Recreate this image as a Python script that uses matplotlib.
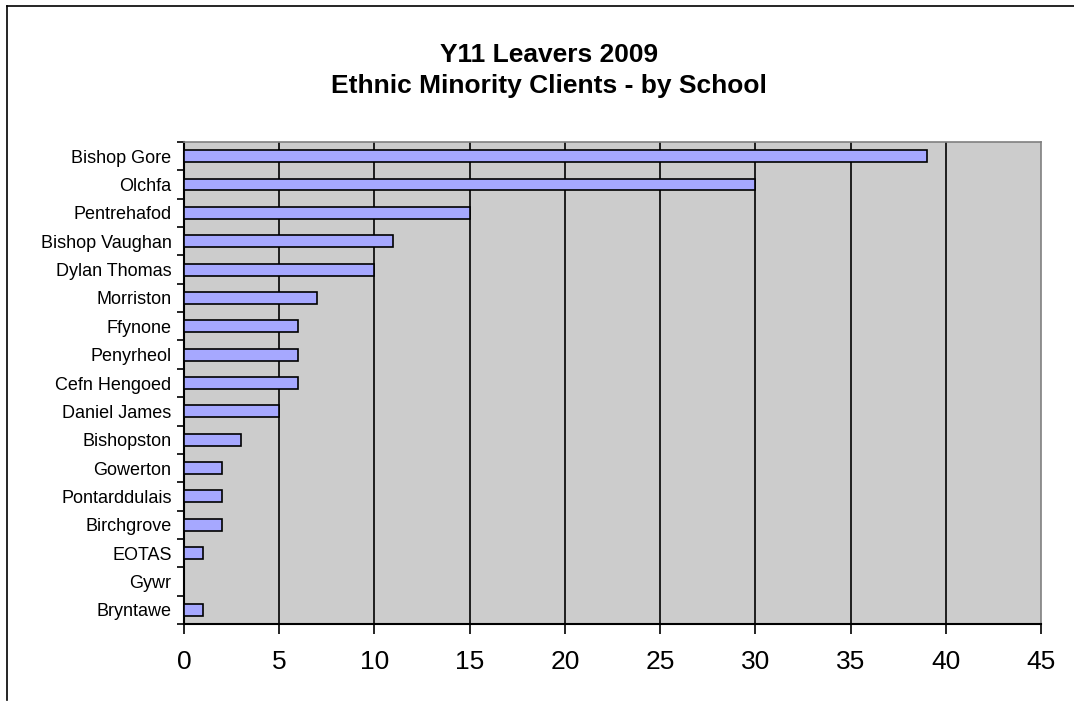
import numpy as np
import matplotlib
matplotlib.use('Agg')
import matplotlib.pyplot as plt
from matplotlib.lines import Line2D

plt.rcParams['font.family'] = ['Liberation Sans', 'DejaVu Sans']

# schools top to bottom as in the chart
schools = ['Bishop Gore', 'Olchfa', 'Pentrehafod', 'Bishop Vaughan', 'Dylan Thomas',
           'Morriston', 'Ffynone', 'Penyrheol', 'Cefn Hengoed', 'Daniel James',
           'Bishopston', 'Gowerton', 'Pontarddulais', 'Birchgrove', 'EOTAS',
           'Gywr', 'Bryntawe']
clients = [39, 30, 15, 11, 10, 7, 6, 6, 6, 5, 3, 2, 2, 2, 1, 0, 1]
xticks = [0, 5, 10, 15, 20, 25, 30, 35, 40, 45]

fig = plt.figure(figsize=(10.74, 7.04), dpi=100)
fig.patch.set_facecolor('white')

# outer chart border (left, top, bottom visible)
W, H = 1074., 704.
fig.add_artist(Line2D([7/W, 7/W], [1-6/H, 1-700/H], color='black', lw=1.2))
fig.add_artist(Line2D([7/W, 1.0], [1-6/H, 1-6/H], color='black', lw=1.2))

ax = fig.add_axes([184/W, 1-624/H, 857/W, 482/H])
ax.set_facecolor('#CCCCCC')

y = np.arange(len(schools))
ax.barh(y, clients, height=0.42, color='#A6A8FF', edgecolor='black', linewidth=1.2, zorder=3)

ax.set_xlim(0, 45)
ax.set_ylim(len(schools)-0.5, -0.5)
ax.set_xticks(xticks)
ax.set_xticklabels([str(t) for t in xticks], fontsize=19)
ax.set_yticks(y)
ax.set_yticklabels(schools, fontsize=13)
ax.set_yticks(np.arange(len(schools)+1)-0.5, minor=True)

ax.tick_params(axis='y', which='major', length=0, pad=9)
ax.tick_params(axis='y', which='minor', length=5, width=1.2, direction='out', color='black')
ax.tick_params(axis='x', which='major', length=7, width=1.2, direction='out', pad=12)

for xv in xticks[1:-1]:
    ax.axvline(xv, color='black', lw=1.2, zorder=1)

ax.spines['left'].set_color('black')
ax.spines['bottom'].set_color('black')
ax.spines['left'].set_linewidth(1.5)
ax.spines['bottom'].set_linewidth(1.5)
ax.spines['top'].set_color('#808080')
ax.spines['right'].set_color('#808080')
ax.spines['top'].set_linewidth(1.2)
ax.spines['right'].set_linewidth(1.2)

fig.text(549/W, 1-55/H, 'Y11 Leavers 2009', ha='center', va='center', fontsize=19, fontweight='bold')
fig.text(549/W, 1-86/H, 'Ethnic Minority Clients - by School', ha='center', va='center', fontsize=19, fontweight='bold')

fig.savefig('out.png', dpi=100)
